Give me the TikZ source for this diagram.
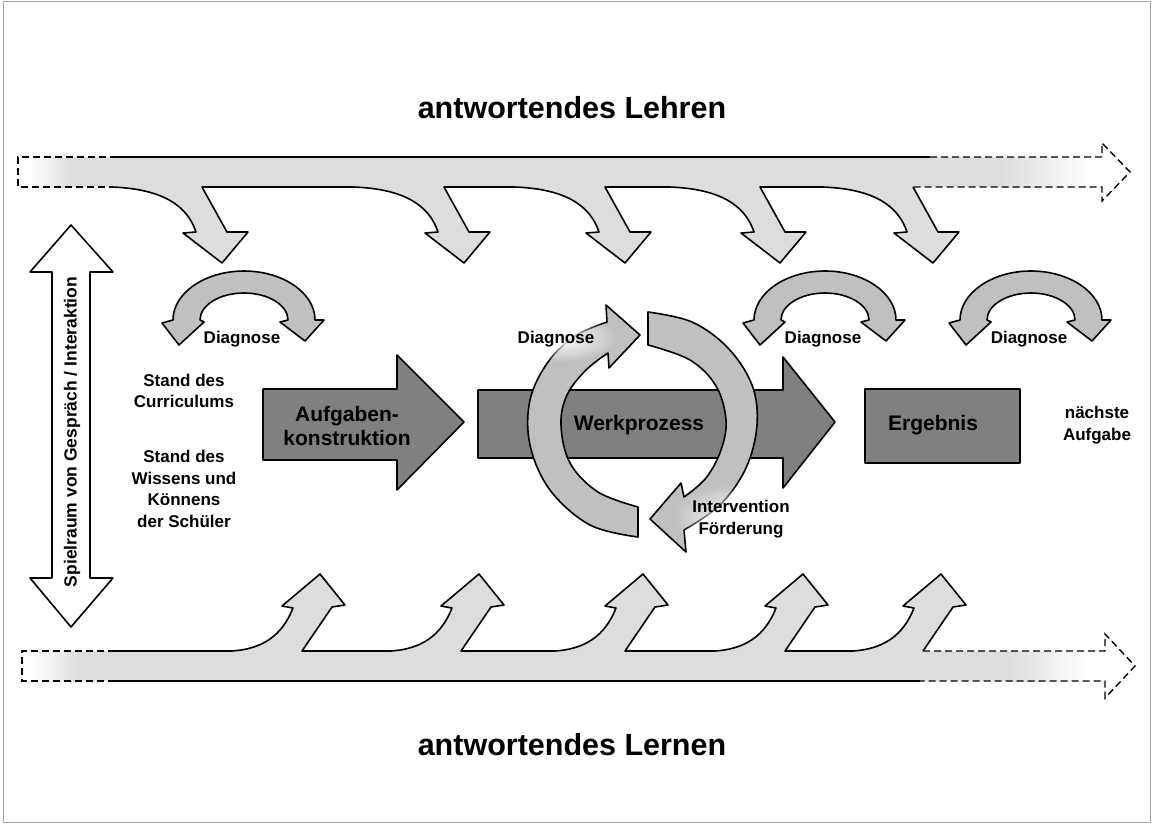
\documentclass[tikz,border=0pt]{standalone}
\usepackage{fontspec}
\setmainfont{Liberation Sans}
\usetikzlibrary{fadings}

\definecolor{bandgrau}{RGB}{221,221,221}
\definecolor{bogengrau}{RGB}{192,192,192}
\definecolor{blockgrau}{RGB}{128,128,128}
\tikzfading[name=glow, inner color=transparent!0, outer color=transparent!100]

\begin{document}
\begin{tikzpicture}[x=1pt, y=-1pt,
  umriss/.style={draw=black, line width=1.6pt, line join=round},
  strich/.style={draw=black, line width=1.4pt, dash pattern=on 7pt off 4pt},
  titel/.style={font=\fontsize{30.5}{34}\selectfont\bfseries},
  beschr/.style={font=\fontsize{17}{21.5}\selectfont\bfseries, align=center},
  blocktext/.style={font=\fontsize{21}{24}\selectfont\bfseries, align=center}]

\useasboundingbox (0,0) rectangle (1152,823);
\draw[gray!70, line width=1pt] (3,1) rectangle (1150,822);

\def\oa{157}; % top band, upper edge
\def\ob{187}; % top band, lower edge
\def\ua{651}; % bottom band, upper edge
\def\ub{681}; % bottom band, lower edge

% antwortendes Lehren (top band)
\fill[bandgrau] (72,\oa) rectangle (1002,\ob);
\shade[left color=white, right color=bandgrau] (30,\oa) rectangle (72,\ob);
\shade[left color=bandgrau, right color=white] (1002,\oa) rectangle (1092,\ob);
\fill[bandgrau] \foreach \x in {222,464,625,780,933} {
  ({\x-110},\ob) .. controls ({\x-60},189) and ({\x-35},205) .. ({\x-26},232)
  -- ({\x-39},233) -- (\x,263) -- ({\x+26},232) -- ({\x+5},232) -- ({\x-20},\ob)
  -- ({\x-20},180) -- ({\x-110},180) -- cycle};
\draw[strich] (117,\oa) -- (18,\oa) -- (18,\ob) -- (112,\ob);
\draw[umriss] (117,\oa) -- (930,\oa);
\draw[strich] (930,\oa) -- (1102,\oa) -- (1102,143) -- (1130,172) -- (1102,201) -- (1102,\ob) -- (913,\ob);
\draw[umriss] (112,\ob) \foreach \x in {222,464,625,780,933} {
  -- ({\x-110},\ob) .. controls ({\x-60},189) and ({\x-35},205) .. ({\x-26},232)
  -- ({\x-39},233) -- (\x,263) -- ({\x+26},232) -- ({\x+5},232) -- ({\x-20},\ob)};

% antwortendes Lernen (bottom band)
\fill[bandgrau] (80,\ua) rectangle (1010,\ub);
\shade[left color=white, right color=bandgrau] (32,\ua) rectangle (80,\ub);
\shade[left color=bandgrau, right color=white] (1010,\ua) rectangle (1085,\ub);
\fill[bandgrau] \foreach \x in {320,479,643,803,941} {
  ({\x-88},\ua) .. controls ({\x-58},649) and ({\x-38},636) .. ({\x-27},608)
  -- ({\x-38},606) -- (\x,574) -- ({\x+25},605) -- ({\x+12},607) -- ({\x-18},\ua)
  -- ({\x-18},658) -- ({\x-88},658) -- cycle};
\draw[strich] (115,\ua) -- (22,\ua) -- (22,\ub) -- (115,\ub);
\draw[umriss] (115,\ua) \foreach \x in {320,479,643,803,941} {
  -- ({\x-88},\ua) .. controls ({\x-58},649) and ({\x-38},636) .. ({\x-27},608)
  -- ({\x-38},606) -- (\x,574) -- ({\x+25},605) -- ({\x+12},607) -- ({\x-18},\ua)};
\draw[umriss] (115,\ub) -- (920,\ub);
\draw[strich] (923,\ua) -- (1105,\ua) -- (1105,634) -- (1135,666) -- (1105,698) -- (1105,\ub) -- (920,\ub);

% Spielraum
\filldraw[umriss, fill=white] (52,272) -- (30,272) -- (71,225) -- (113,272) -- (90,272)
  -- (90,578) -- (113,578) -- (71,627) -- (30,578) -- (52,578) -- cycle;
\node[font=\fontsize{17.5}{21}\selectfont\bfseries, rotate=90] (spiel) at (72,432) {Spielraum von Gespräch / Interaktion};

% Diagnose arcs
\foreach \cx/\n in {244/1, 825/2, 1031/3} {
  \filldraw[umriss, fill=bogengrau] ({\cx-71},320) .. controls ({\cx-71},293) and ({\cx-39},271) .. (\cx,271)
    .. controls ({\cx+39},271) and ({\cx+71},293) .. ({\cx+71},320)
    -- ({\cx+80},320) -- ({\cx+61},341) -- ({\cx+36},322) -- ({\cx+44},320)
    .. controls ({\cx+44},305) and ({\cx+24},293) .. (\cx,293)
    .. controls ({\cx-24},293) and ({\cx-44},305) .. ({\cx-44},320)
    -- ({\cx-40},322) -- ({\cx-65},345) -- ({\cx-82},323) -- cycle;
  \node[beschr] (diag\n) at ({\cx-2},339) {Diagnose};
}

% Aufgabenkonstruktion -> Werkprozess -> Ergebnis
\filldraw[umriss, fill=blockgrau] (263,389) -- (397,389) -- (397,355) -- (464,422) -- (397,490)
  -- (397,460) -- (263,460) -- cycle;
\filldraw[umriss, fill=blockgrau] (478,390) -- (783,390) -- (783,357) -- (835,422) -- (783,488)
  -- (783,458) -- (478,458) -- cycle;
\filldraw[umriss, fill=blockgrau] (865,389) rectangle (1020,463);

% Kreislauf um den Werkprozess
\filldraw[umriss, fill=bogengrau] plot[smooth, tension=0.6] coordinates {(638,537) (590,525) (550,490) (530,445) (530,400) (548,362) (575,336) (607,322)}
  -- (606,305) -- (640,335) -- (609,368) -- (608,353)
  -- plot[smooth, tension=0.6] coordinates {(608,353) (586,370) (567,395) (561,425) (570,463) (598,492) (638,507)} -- cycle;
\filldraw[umriss, fill=bogengrau] plot[smooth, tension=0.6] coordinates {(648,312) (692,322) (728,348) (752,385) (757,425) (746,468) (720,505) (684,530)}
  -- (686,552) -- (650,519) -- (681,483) -- (684,497)
  -- plot[smooth, tension=0.6] coordinates {(684,497) (706,478) (721,450) (726,420) (716,386) (690,360) (648,345)} -- cycle;
\fill[white, path fading=glow] (560,338) ellipse (58 and 24);
\fill[white, path fading=glow] (738,518) ellipse (66 and 34);

% texts
\node[titel] (lehren) at (572,108) {antwortendes Lehren};
\node[titel] (lernen) at (572,745) {antwortendes Lernen};
\node[beschr] (diag0) at (556,339) {Diagnose};
\node[beschr] (interv) at (741,519) {Intervention\\Förderung};
\node[beschr] (curr) at (184,391) {Stand des\\Curriculums};
\node[beschr] (wissen) at (184,489) {Stand des\\Wissens und\\Könnens\\der Schüler};
\node[blocktext] (aufg) at (347,426) {Aufgaben-\\konstruktion};
\node[blocktext] (werk) at (639,425) {Werkprozess};
\node[blocktext] (ergebnis) at (933,425) {Ergebnis};
\node[beschr] (naechste) at (1097,425) {nächste\\Aufgabe};

\end{tikzpicture}
\end{document}
